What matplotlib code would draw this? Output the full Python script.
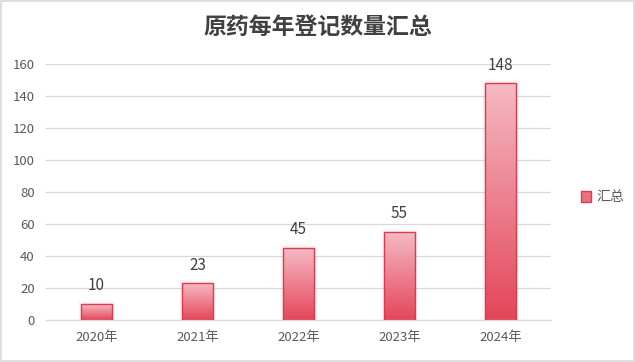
import numpy as np
import matplotlib
matplotlib.use('Agg')
import matplotlib.pyplot as plt
from matplotlib.colors import LinearSegmentedColormap
from matplotlib.patches import Patch, Rectangle

plt.rcParams['font.family'] = ['Noto Sans CJK SC', 'DejaVu Sans']

years = ['2020年', '2021年', '2022年', '2023年', '2024年']
counts = [10, 23, 45, 55, 148]
title = '原药每年登记数量汇总'
series_name = '汇总'

grad = LinearSegmentedColormap.from_list('g', ['#e4465a', '#f5bac3'])

fig = plt.figure(figsize=(6.35, 3.62), dpi=100)
fig.patches.append(Rectangle((0.002, 0.003), 0.996, 0.994, transform=fig.transFigure,
                             fill=False, edgecolor='#d9d9d9', linewidth=1.2))
ax = fig.add_axes([0.0724, 0.116, 0.7953, 0.707])

x = np.arange(len(years))
bars = ax.bar(x, counts, width=0.3, color='none', edgecolor='#dc3a50', linewidth=1.0, zorder=3)
for b in bars:
    x0, y0 = b.get_x(), b.get_y()
    w, h = b.get_width(), b.get_height()
    # soft shadow
    for k in range(1, 4):
        d = 0.012 * k
        sh = Rectangle((x0 - d, y0), w + 2 * d, h + 0.6 * k, facecolor='#e46b7c',
                       alpha=0.04, edgecolor='none', zorder=1)
        ax.add_patch(sh)
    img = ax.imshow(np.linspace(0, 1, 256).reshape(-1, 1), cmap=grad, origin='lower',
                    extent=[x0, x0 + w, y0, y0 + h], aspect='auto', zorder=2)
    img.set_clip_path(b)
    ax.annotate(str(int(h)), (x0 + w / 2, h), xytext=(0, 13), textcoords='offset points',
                ha='center', va='center', fontsize=11, color='#404040')

ax.set_xlim(-0.5, len(years) - 0.5)
ax.set_ylim(0, 160)
ax.set_yticks(range(0, 161, 20))
ax.set_xticks(x)
ax.set_xticklabels(years)
ax.tick_params(axis='both', length=0, labelsize=9.5, colors='#595959')
ax.tick_params(axis='y', pad=8)
ax.tick_params(axis='x', pad=8)
ax.grid(axis='y', color='#d9d9d9', linewidth=0.9, zorder=0)
ax.set_axisbelow(True)
for s in ['top', 'right', 'left']:
    ax.spines[s].set_visible(False)
ax.spines['bottom'].set_color('#d9d9d9')
ax.spines['bottom'].set_linewidth(0.9)

fig.text(0.5, 0.925, title, ha='center', va='center', fontsize=16.5, fontweight='bold',
         color='#404040')

fig.legend(handles=[Patch(facecolor='#ec7082', edgecolor='#dc3a50', label=series_name)],
           loc='center left', bbox_to_anchor=(0.895, 0.455), frameon=False,
           fontsize=10, labelcolor='#595959', handlelength=0.75, handleheight=0.75,
           handletextpad=0.4)

fig.savefig('out.png', dpi=100)
